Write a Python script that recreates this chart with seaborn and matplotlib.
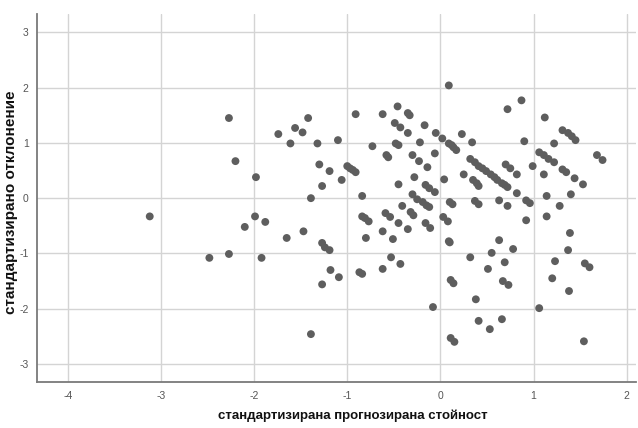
import matplotlib
matplotlib.use("Agg")
import matplotlib.pyplot as plt
import seaborn as sns
import pandas as pd

# Standardized predicted value (x) and standardized residual (y)
pred_std = [
    -3.12, -2.48, -2.27, -1.92, -1.99, -2.10, -1.88, -1.65, -1.47, -1.39,
    -2.27, -2.20, -1.98, -1.74, -1.61, -1.56, -1.48, -1.42, -1.32, -1.30,
    -1.27, -1.39, -0.91, -0.62, -0.46, -0.35, -0.33, -0.49, -0.43, -0.35,
    -0.17, -1.10, -0.73, -0.48, -0.45, -0.22, -0.05, 0.02, 0.09, 0.12,
    0.14, 0.17, 0.09, 0.23, 0.34, 0.72, 0.87, 0.90, 1.12, 1.22,
    1.31, 1.37, 1.41, 1.45, 1.06, 1.11, 1.16, 1.22, 1.68, 1.74,
    0.99, 1.11, 1.31, 1.35, 1.44, 1.53, 1.14, 1.28, 1.40,
    0.32, 0.37, 0.41, 0.45, 0.49, 0.54, 0.58, 0.61, 0.66, 0.69, 0.72,
    0.70, 0.75, 0.82, 0.35, 0.39, 0.41, 0.25, 0.04, -0.06, -0.14,
    -0.23, -0.30, -0.58, -0.56, -1.19, -1.06, -1.00, -0.97, -0.94, -0.91,
    -0.84, -0.45, -0.28, -0.16, -0.12, -0.06, -0.30, -0.25, -0.19, -0.15,
    -0.12, -0.41, 0.10, 0.13, 0.37, 0.41, 0.63, 0.72, 0.82, 0.92,
    0.96, -0.32, -0.29, -0.84, -0.81, -0.77, -0.59, -0.54, -0.45, -0.35,
    -0.62, -0.80, -0.51, -1.27, -1.24, -1.19, -0.53, -0.43, -1.18, -1.09,
    -1.27, -0.87, -0.84, -0.62, 0.92, -0.16, -0.11, 0.03, 0.08, 0.09,
    0.10, 0.63, 0.78, 0.32, 0.55, 0.69, 0.51, 0.11, 0.14, 0.67,
    0.73, -0.08, 0.38, 0.41, 0.66, 0.53, 0.11, 0.15, 1.14, 1.23,
    1.20, 1.37, 1.39, 1.38, 1.06, 1.55, 1.60, 1.54,
]
resid_std = [
    -0.33, -1.08, -1.01, -1.08, -0.33, -0.52, -0.43, -0.72, -0.60, -2.46,
    1.45, 0.67, 0.38, 1.16, 0.99, 1.27, 1.19, 1.45, 0.99, 0.61,
    0.22, 0.00, 1.52, 1.52, 1.66, 1.54, 1.50, 1.36, 1.28, 1.18,
    1.32, 1.05, 0.94, 0.99, 0.96, 1.01, 1.18, 1.08, 0.99, 0.96,
    0.92, 0.87, 2.04, 1.16, 1.01, 1.61, 1.77, 1.03, 1.46, 0.99,
    1.23, 1.18, 1.12, 1.05, 0.83, 0.78, 0.71, 0.65, 0.78, 0.69,
    0.58, 0.43, 0.52, 0.47, 0.36, 0.25, 0.04, -0.14, 0.07,
    0.71, 0.65, 0.58, 0.54, 0.49, 0.43, 0.38, 0.33, 0.27, 0.24, 0.20,
    0.61, 0.54, 0.43, 0.33, 0.27, 0.22, 0.43, 0.34, 0.81, 0.56,
    0.67, 0.78, 0.78, 0.74, 0.49, 0.33, 0.58, 0.54, 0.51, 0.47,
    0.04, 0.25, 0.38, 0.24, 0.18, 0.11, 0.07, -0.02, -0.07, -0.13,
    -0.16, -0.14, -0.07, -0.11, -0.05, -0.11, -0.04, -0.14, 0.09, -0.04,
    -0.09, -0.25, -0.31, -0.33, -0.36, -0.42, -0.27, -0.34, -0.45, -0.56,
    -0.60, -0.72, -0.74, -0.81, -0.89, -0.94, -1.07, -1.19, -1.30, -1.43,
    -1.56, -1.34, -1.37, -1.28, -0.40, -0.45, -0.54, -0.34, -0.42, -0.78,
    -0.80, -0.76, -0.92, -1.07, -0.99, -1.16, -1.28, -1.48, -1.54, -1.50,
    -1.57, -1.97, -1.83, -2.22, -2.19, -2.37, -2.53, -2.60, -0.33, -1.14,
    -1.45, -0.94, -0.63, -1.68, -1.99, -1.18, -1.25, -2.59,
]
x_ticks = [-4, -3, -2, -1, 0, 1, 2]
y_ticks = [-3, -2, -1, 0, 1, 2, 3]
x_label = "стандартизирана прогнозирана стойност"
y_label = "стандартизирано отклонение"

df = pd.DataFrame({"x": pred_std, "y": resid_std})

sns.set_style("white")
plt.rcParams["font.family"] = ["Liberation Sans", "DejaVu Sans"]

fig = plt.figure(figsize=(6.38, 4.28), dpi=100)
ax = fig.add_axes([0.058, 0.107, 0.939, 0.86])

sns.scatterplot(data=df, x="x", y="y", ax=ax, s=32, color="#5e5e5e",
                edgecolor="none", linewidth=0, zorder=3)

ax.set_xlim(-4.33, 2.1)
ax.set_ylim(-3.33, 3.33)
ax.set_xticks(x_ticks)
ax.set_yticks(y_ticks)
ax.set_xticklabels([str(t) for t in x_ticks])
ax.set_yticklabels([str(t) for t in y_ticks])
ax.grid(True, color="#d4d4d4", linewidth=1.0, zorder=0)
ax.set_axisbelow(True)
ax.tick_params(axis="both", length=0, labelsize=7.5, labelcolor="#555555", pad=6)

for side in ["top", "right"]:
    ax.spines[side].set_visible(False)
for side in ["left", "bottom"]:
    ax.spines[side].set_color("#7a7a7a")
    ax.spines[side].set_linewidth(1.3)

ax.set_xlabel(x_label, fontsize=9.5, fontweight="bold", color="#111111")
ax.set_ylabel(y_label, fontsize=11, fontweight="bold", color="#111111")
ax.xaxis.set_label_coords((353 - 37) / 599, -0.074)
ax.yaxis.set_label_coords(-0.031, 0.49)

fig.savefig("out.png", dpi=100)
